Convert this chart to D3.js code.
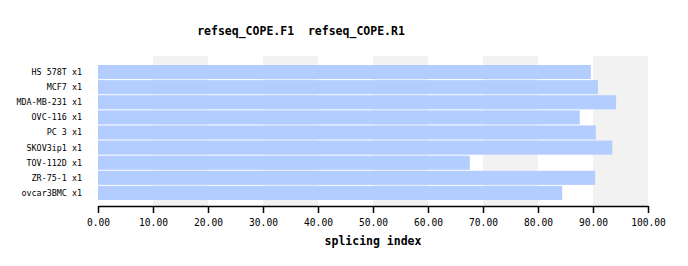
<!DOCTYPE html>
<html>
<head>
<meta charset="utf-8">
<script src="https://cdn.jsdelivr.net/npm/d3@7"></script>
<style>
  body { margin: 0; background: #fff; }
  text { font-family: "DejaVu Sans Mono", monospace; white-space: pre; }
</style>
</head>
<body>
<div id="chart"></div>
<script>
// data
var samples = ["HS 578T x1", "MCF7 x1", "MDA-MB-231 x1", "OVC-116 x1", "PC 3 x1",
               "SKOV3ip1 x1", "TOV-112D x1", "ZR-75-1 x1", "ovcar3BMC x1"];
var splicing = [89.6, 90.9, 94.2, 87.6, 90.5, 93.5, 67.6, 90.4, 84.4];
var xTicks = [0, 10, 20, 30, 40, 50, 60, 70, 80, 90, 100];
var titleText = "refseq_COPE.F1  refseq_COPE.R1";

var W = 688, H = 266;
var margin = {top: 56, left: 98, right: 40, bottom: 60};
var width = W - margin.left - margin.right,
    height = H - margin.top - margin.bottom;

var svg = d3.select("#chart").append("svg")
    .attr("width", W).attr("height", H);

svg.append("text")
    .attr("x", 301).attr("y", 35)
    .attr("text-anchor", "middle")
    .attr("xml:space", "preserve")
    .style("font-size", "11.5px").style("font-weight", "bold")
    .text(titleText);

var g = svg.append("g")
    .attr("transform", `translate(${margin.left}, ${margin.top})`);

var x = d3.scaleLinear().domain([0, 100]).range([0, width]);
var y = d3.scaleBand().domain(samples).range([9, 144]).paddingInner(1 / 15).paddingOuter(0.0);

// alternating grey bands
var bands = d3.range(10, 100, 20);
g.selectAll(".band").data(bands).enter().append("rect")
    .attr("class", "band")
    .attr("x", d => x(d))
    .attr("width", d => x(d + 10) - x(d))
    .attr("y", 0)
    .attr("height", height)
    .attr("fill", "#f2f2f2");

g.selectAll(".bar").data(samples).enter().append("rect")
    .attr("class", "bar")
    .attr("x", x(0))
    .attr("y", d => y(d))
    .attr("height", y.bandwidth())
    .attr("width", (d, i) => x(splicing[i]) - x(0))
    .attr("fill", "#b3cdff");

// row labels
g.selectAll(".lab").data(samples).enter().append("text")
    .attr("class", "lab")
    .attr("x", -16)
    .attr("y", d => y(d) + y.bandwidth() / 2)
    .attr("dy", "0.35em")
    .attr("text-anchor", "end")
    .style("font-size", "8.4px")
    .text(d => d);

var xAxis = g.append("g")
    .attr("transform", `translate(0, ${height})`)
    .call(d3.axisBottom(x).tickValues(xTicks).tickSize(7).tickSizeOuter(0)
          .tickFormat(d3.format(".2f")));
xAxis.select(".domain").attr("stroke", "#000").attr("stroke-width", 1.5);
xAxis.selectAll(".tick line").attr("stroke", "#000").attr("stroke-width", 1.5);
xAxis.selectAll(".tick text")
    .attr("y", 13)
    .style("font-family", "DejaVu Sans Mono, monospace")
    .style("font-size", "9.6px")
    .attr("fill", "#000");

svg.append("text")
    .attr("x", margin.left + width / 2)
    .attr("y", 245)
    .attr("text-anchor", "middle")
    .style("font-size", "11.5px").style("font-weight", "bold")
    .text("splicing index");
</script>
</body>
</html>
